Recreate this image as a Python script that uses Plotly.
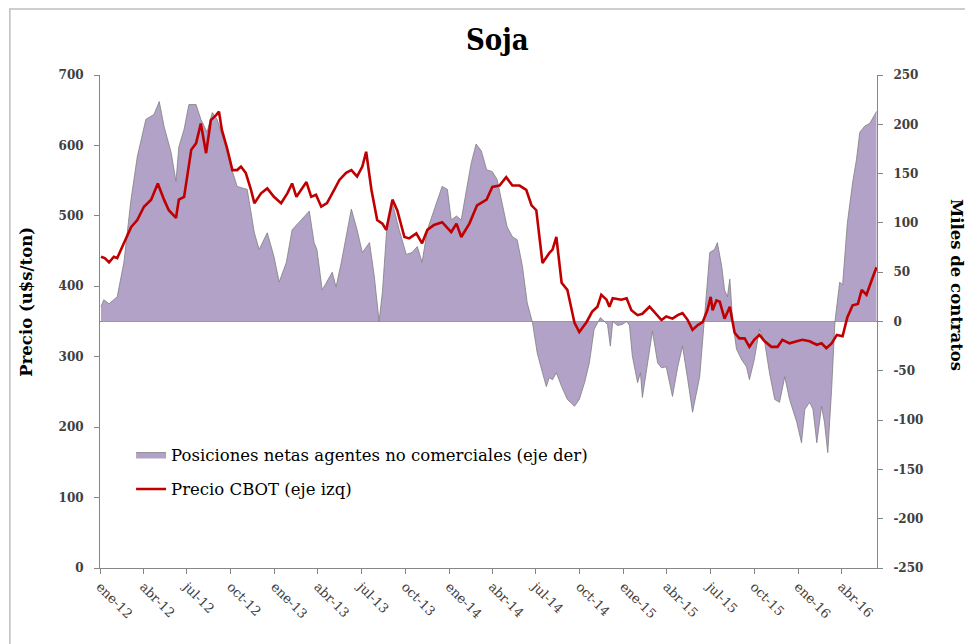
import plotly.graph_objects as go

# Posiciones netas de agentes no comerciales (miles de contratos, eje der)
area_dates = [
    "2012-01-03", "2012-01-09", "2012-01-20", "2012-01-30", "2012-02-06", "2012-02-20",
    "2012-03-06", "2012-03-19", "2012-04-06", "2012-04-23", "2012-05-04", "2012-05-14",
    "2012-05-29", "2012-06-08", "2012-06-14", "2012-06-25", "2012-07-05", "2012-07-20",
    "2012-07-30", "2012-08-12", "2012-08-23", "2012-09-02", "2012-09-17", "2012-10-01",
    "2012-10-14", "2012-11-04", "2012-11-19", "2012-11-29", "2012-12-16", "2012-12-30",
    "2013-01-10", "2013-01-25", "2013-02-06", "2013-02-25", "2013-03-14", "2013-03-24",
    "2013-03-30", "2013-04-10", "2013-04-20", "2013-05-01", "2013-05-09", "2013-05-20",
    "2013-06-10", "2013-06-22", "2013-07-03", "2013-07-18", "2013-07-28", "2013-08-07",
    "2013-08-14", "2013-08-24", "2013-09-04", "2013-09-18", "2013-10-03", "2013-10-15",
    "2013-10-26", "2013-11-05", "2013-11-16", "2013-11-26", "2013-12-17", "2013-12-28",
    "2014-01-05", "2014-01-16", "2014-01-26", "2014-02-06", "2014-02-16", "2014-02-26",
    "2014-03-09", "2014-03-20", "2014-04-01", "2014-04-11", "2014-04-22", "2014-05-02",
    "2014-05-13", "2014-05-23", "2014-06-03", "2014-06-13", "2014-06-24", "2014-07-04",
    "2014-07-15", "2014-07-23", "2014-07-29", "2014-08-05", "2014-08-13", "2014-08-24",
    "2014-09-05", "2014-09-20", "2014-09-30", "2014-10-11", "2014-10-21", "2014-10-31",
    "2014-11-13", "2014-11-22", "2014-11-28", "2014-12-04", "2014-12-09", "2014-12-19",
    "2014-12-29", "2015-01-07", "2015-01-13", "2015-01-19", "2015-01-30", "2015-02-05",
    "2015-02-09", "2015-02-20", "2015-03-02", "2015-03-13", "2015-03-21", "2015-03-31",
    "2015-04-13", "2015-04-24", "2015-05-04", "2015-05-15", "2015-05-25", "2015-06-09",
    "2015-06-19", "2015-06-30", "2015-07-10", "2015-07-16", "2015-07-25", "2015-07-31",
    "2015-08-06", "2015-08-11", "2015-08-17", "2015-08-25", "2015-09-05", "2015-09-15",
    "2015-09-21", "2015-10-01", "2015-10-12", "2015-10-23", "2015-11-02", "2015-11-13",
    "2015-11-23", "2015-12-04", "2015-12-14", "2015-12-29", "2016-01-08", "2016-01-15",
    "2016-01-25", "2016-02-01", "2016-02-09", "2016-02-19", "2016-02-25", "2016-03-03",
    "2016-03-11", "2016-03-18", "2016-03-28", "2016-04-03", "2016-04-13", "2016-04-24",
    "2016-05-02", "2016-05-09", "2016-05-19", "2016-05-30", "2016-06-13",
]
area_values = [
    15, 22, 18, 22, 25, 60,
    124, 167, 205, 210, 223, 198,
    171, 142, 177, 195, 220, 220,
    205, 192, 212, 205, 182, 157,
    137, 134, 90, 73, 90, 66,
    40, 60, 93, 103, 112, 80,
    73, 32, 40, 50, 35, 60,
    114, 93, 70, 80, 46, 0,
    30, 100, 120, 93, 68, 70,
    76, 60, 93, 107, 137, 134,
    103, 107, 103, 134, 161, 180,
    173, 154, 152, 144, 120, 96,
    86, 83, 56, 19, -1, -32,
    -52, -66, -57, -59, -52, -66,
    -79, -86, -79, -62, -42, -8,
    4, 0, -3, -25, 0, -4,
    -3, 0, -4, -35, -62, -52,
    -77, -42, -10, -42, -47, -46,
    -76, -46, -25, -59, -92, -56,
    0, 70, 73, 80, 56, 32,
    25, 43, 0, -28, -39, -46,
    -59, -39, -8, -21, -52, -79,
    -82, -56, -79, -102, -123, -89,
    -82, -89, -123, -86, -102, -133,
    -69, 0, 40, 37, 100, 141,
    164, 192, 198, 201, 213,
]

# Precio CBOT (u$s/ton, eje izq)
price_dates = [
    "2012-01-03", "2012-01-11", "2012-01-20", "2012-01-30", "2012-02-06", "2012-02-20",
    "2012-03-06", "2012-03-19", "2012-04-02", "2012-04-17", "2012-05-01", "2012-05-14",
    "2012-05-24", "2012-06-08", "2012-06-14", "2012-06-25", "2012-07-10", "2012-07-20",
    "2012-07-30", "2012-08-10", "2012-08-20", "2012-08-31", "2012-09-06", "2012-09-12",
    "2012-09-23", "2012-10-04", "2012-10-14", "2012-10-22", "2012-11-01", "2012-11-12",
    "2012-11-19", "2012-12-03", "2012-12-16", "2012-12-30", "2013-01-14", "2013-01-27",
    "2013-02-06", "2013-02-15", "2013-02-25", "2013-03-08", "2013-03-18", "2013-03-28",
    "2013-04-08", "2013-04-20", "2013-05-05", "2013-05-16", "2013-05-30", "2013-06-10",
    "2013-06-22", "2013-07-03", "2013-07-11", "2013-07-22", "2013-08-03", "2013-08-14",
    "2013-08-22", "2013-09-04", "2013-09-14", "2013-09-29", "2013-10-09", "2013-10-24",
    "2013-11-05", "2013-11-16", "2013-11-30", "2013-12-17", "2014-01-05", "2014-01-16",
    "2014-01-26", "2014-02-12", "2014-02-28", "2014-03-20", "2014-04-01", "2014-04-16",
    "2014-04-30", "2014-05-13", "2014-05-28", "2014-06-11", "2014-06-22", "2014-07-02",
    "2014-07-15", "2014-07-29", "2014-08-05", "2014-08-13", "2014-08-24", "2014-09-05",
    "2014-09-20", "2014-09-30", "2014-10-15", "2014-10-27", "2014-11-07", "2014-11-15",
    "2014-11-26", "2014-12-02", "2014-12-09", "2014-12-27", "2015-01-07", "2015-01-17",
    "2015-01-30", "2015-02-09", "2015-02-24", "2015-03-11", "2015-03-21", "2015-03-31",
    "2015-04-13", "2015-04-24", "2015-05-04", "2015-05-15", "2015-05-25", "2015-06-05",
    "2015-06-15", "2015-06-25", "2015-07-02", "2015-07-06", "2015-07-14", "2015-07-21",
    "2015-07-31", "2015-08-11", "2015-08-21", "2015-08-31", "2015-09-11", "2015-09-21",
    "2015-10-01", "2015-10-12", "2015-10-23", "2015-11-06", "2015-11-19", "2015-11-29",
    "2015-12-14", "2015-12-29", "2016-01-10", "2016-01-25", "2016-02-09", "2016-02-19",
    "2016-02-29", "2016-03-11", "2016-03-22", "2016-04-03", "2016-04-13", "2016-04-24",
    "2016-05-05", "2016-05-13", "2016-05-23", "2016-06-03", "2016-06-13",
]
price_values = [
    442, 440, 434, 442, 440, 461,
    484, 494, 513, 523, 546, 523,
    508, 497, 523, 527, 594, 603,
    631, 589, 636, 643, 648, 622,
    596, 565, 565, 570, 561, 537,
    518, 532, 539, 527, 518, 532,
    546, 527, 537, 548, 527, 530,
    513, 518, 537, 551, 561, 565,
    556, 570, 591, 537, 494, 489,
    480, 523, 508, 470, 468, 475,
    461, 480, 487, 491, 477, 489,
    470, 489, 515, 523, 541, 543,
    555, 543, 543, 537, 515, 508,
    433, 447, 452, 470, 405, 395,
    348, 335, 349, 364, 371, 388,
    381, 371, 383, 381, 383, 366,
    359, 361, 371, 359, 352, 357,
    354, 359, 362, 352, 338, 345,
    349, 366, 385, 366, 380, 378,
    354, 371, 334, 326, 326, 314,
    324, 331, 322, 314, 314, 324,
    319, 322, 324, 322, 317, 319,
    312, 319, 331, 329, 356, 373,
    375, 395, 388, 409, 427,
]

tick_dates = [
    "2012-01-01", "2012-04-01", "2012-07-01", "2012-10-01",
    "2013-01-01", "2013-04-01", "2013-07-01", "2013-10-01",
    "2014-01-01", "2014-04-01", "2014-07-01", "2014-10-01",
    "2015-01-01", "2015-04-01", "2015-07-01", "2015-10-01",
    "2016-01-01", "2016-04-01",
]
tick_labels = [
    "ene-12", "abr-12", "jul-12", "oct-12",
    "ene-13", "abr-13", "jul-13", "oct-13",
    "ene-14", "abr-14", "jul-14", "oct-14",
    "ene-15", "abr-15", "jul-15", "oct-15",
    "ene-16", "abr-16",
]

# right axis ticks written with a plain hyphen, as in the original
right_ticks = [-250, -200, -150, -100, -50, 0, 50, 100, 150, 200, 250]
right_tick_labels = [str(v) for v in right_ticks]

SERIF = "DejaVu Serif"
AXIS_GRAY = "#868686"
TICK_COLOR = "#404040"

fig = go.Figure()

# area on the primary axis (right side) so the price line is drawn on top
fig.add_trace(go.Scatter(
    x=area_dates,
    y=area_values,
    name="Posiciones netas agentes no comerciales (eje der)",
    mode="lines",
    fill="tozeroy",
    fillcolor="#B2A2C7",
    line=dict(color="#7F7F7F", width=0.8),
    legendgroup="a",
))

fig.add_trace(go.Scatter(
    x=price_dates,
    y=price_values,
    name="Precio CBOT (eje izq)",
    yaxis="y2",
    mode="lines",
    line=dict(color="#C00000", width=2.6),
    legendgroup="b",
))

# the page has an 8px body margin, so the figure is sized/margined to compensate
fig.update_layout(
    width=965,
    height=636,
    paper_bgcolor="white",
    plot_bgcolor="white",
    margin=dict(l=92, r=96, t=67, b=76),
    title=dict(
        text="<b>Soja</b>",
        x=0.507,
        xanchor="center",
        y=0.95,
        yanchor="middle",
        font=dict(family="DejaVu Serif Condensed, DejaVu Serif, serif",
                  size=29, color="black"),
    ),
    xaxis=dict(
        type="date",
        range=["2012-01-01", "2016-06-14"],
        tickmode="array",
        tickvals=tick_dates,
        ticktext=tick_labels,
        tickangle=45,
        ticks="outside",
        ticklen=5,
        tickcolor=AXIS_GRAY,
        showline=True,
        linecolor=AXIS_GRAY,
        linewidth=1,
        showgrid=False,
        zeroline=False,
        tickfont=dict(family=SERIF, size=13, color=TICK_COLOR),
    ),
    yaxis=dict(
        range=[-250, 250],
        tickmode="array",
        tickvals=right_ticks,
        ticktext=right_tick_labels,
        side="right",
        ticks="outside",
        ticklen=5,
        tickcolor=AXIS_GRAY,
        showline=True,
        linecolor=AXIS_GRAY,
        showgrid=False,
        zeroline=True,
        zerolinecolor=AXIS_GRAY,
        zerolinewidth=1,
        ticklabelstandoff=8,
        tickfont=dict(family=SERIF, size=12, color=TICK_COLOR, weight="bold"),
    ),
    yaxis2=dict(
        range=[0, 700],
        dtick=100,
        side="left",
        overlaying="y",
        ticks="outside",
        ticklen=5,
        tickcolor=AXIS_GRAY,
        showline=True,
        linecolor=AXIS_GRAY,
        showgrid=False,
        zeroline=False,
        ticklabelstandoff=8,
        tickfont=dict(family=SERIF, size=12, color=TICK_COLOR, weight="bold"),
    ),
    legend=dict(
        x=0.04,
        y=0.265,
        xanchor="left",
        yanchor="top",
        bgcolor="rgba(0,0,0,0)",
        font=dict(family=SERIF, size=16.5, color="black"),
        itemwidth=30,
        tracegroupgap=10,
        traceorder="grouped",
    ),
    showlegend=True,
    annotations=[
        dict(
            text="<b>Precio (u$s/ton)</b>",
            xref="paper", yref="paper",
            x=-0.094, y=0.54,
            xanchor="center", yanchor="middle",
            textangle=-90,
            showarrow=False,
            font=dict(family=SERIF, size=16.5, color="black"),
        ),
        dict(
            text="<b>Miles de contratos</b>",
            xref="paper", yref="paper",
            x=1.103, y=0.574,
            xanchor="center", yanchor="middle",
            textangle=90,
            showarrow=False,
            font=dict(family=SERIF, size=16.5, color="black"),
        ),
    ],
    shapes=[
        dict(
            type="rect",
            xref="paper", yref="paper",
            x0=-0.116, x1=1.2, y0=-0.2, y1=1.134,
            line=dict(color="#BFBFBF", width=1.5),
            fillcolor="rgba(0,0,0,0)",
            layer="below",
        ),
    ],
)

fig.write_html("out.html")
